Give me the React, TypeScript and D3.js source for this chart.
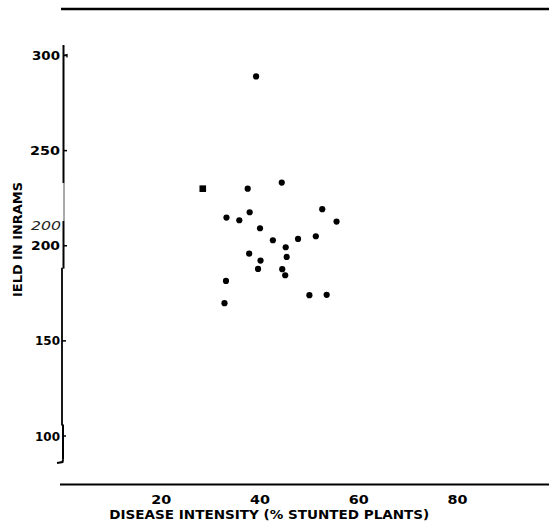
import React from "react";
import * as d3 from "d3";

const intensity = [39.2, 37.5, 44.4, 52.6, 33.2, 37.9, 35.8, 55.5, 40.0, 42.6, 47.7, 51.3, 45.2, 37.8, 45.4, 40.1, 39.6, 44.5, 45.1, 33.1, 50.0, 53.5, 32.8];
const yieldG = [289, 230, 233.2, 219.2, 214.8, 217.6, 213.4, 212.7, 209.2, 202.9, 203.6, 205.0, 199.2, 195.9, 194.1, 192.2, 187.8, 187.7, 184.5, 181.5, 174.0, 174.2, 169.8];
const squareX = [28.4];
const squareY = [230];
const xTicks = [20, 40, 60, 80];
const yTicks = [100, 150, 200, 250, 300];
const yTickWidths = [25, 25, 29, 30, 28];

export default function App() {
  const W = 549, H = 525;
  const x = d3.scaleLinear().domain([20, 80]).range([161.3, 457.5]);
  const y = d3.scaleLinear().domain([100, 300]).range([436, 55.5]);
  const font = "'DejaVu Sans', 'Liberation Sans', Arial, sans-serif";
  return (
    <svg width={W} height={H} style={{ position: "absolute", left: 0, top: 0, background: "#fff" }}>
      {/* top rule */}
      <line x1={61} x2={549} y1={9} y2={9} stroke="#000" strokeWidth={2.5} />
      {/* x axis line */}
      <line x1={60} x2={549} y1={484.5} y2={484.5} stroke="#000" strokeWidth={2} />
      {/* y axis line (scanned, slightly broken) */}
      <line x1={63.5} x2={63.5} y1={y(305.5)} y2={y(233)} stroke="#000" strokeWidth={2} />
      <line x1={64} x2={64} y1={y(233)} y2={y(213)} stroke="#555" strokeWidth={1} />
      <line x1={63.5} x2={63.5} y1={y(213)} y2={y(188)} stroke="#000" strokeWidth={2} />
      <line x1={62} x2={62} y1={y(188.5)} y2={y(105.5)} stroke="#000" strokeWidth={1.8} />
      <line x1={63} x2={63} y1={y(106)} y2={y(87.5)} stroke="#000" strokeWidth={2} />
      <path d={`M63,${y(87.5)} L62.5,${y(86.3)} L57,${y(85.8)}`} stroke="#000" strokeWidth={2} fill="none" />
      {yTicks.map((t, i) => (
        <g key={t}>
          <line x1={t >= 200 ? 63.5 : 62} x2={t >= 200 ? 67 : 66} y1={y(t)} y2={y(t)} stroke="#000" strokeWidth={1.5} />
          <text x={60} y={y(t) + 4.5} textAnchor="end" fontFamily={font} fontWeight="bold" fontSize={12.5}
            textLength={yTickWidths[i]} lengthAdjust="spacingAndGlyphs" fill="#000">{t}</text>
        </g>
      ))}
      <path d={`M63.5,${y(300)} L67,${y(300) - 1} L67,${y(300) + 2}`} stroke="#000" strokeWidth={1.3} fill="none" />
      {/* duplicate italic 200 artifact */}
      <text x={61} y={230} textAnchor="end" fontFamily={font} fontStyle="italic" fontSize={13}
        textLength={30} lengthAdjust="spacingAndGlyphs" fill="#222">200</text>
      {/* y title */}
      <text transform="translate(22,239.5) rotate(-90)" textAnchor="middle" fontFamily={font} fontWeight="bold"
        fontSize={11.5} textLength={115} lengthAdjust="spacingAndGlyphs" fill="#000">IELD IN INRAMS</text>
      {/* x ticks */}
      {xTicks.map((t) => (
        <text key={t} x={x(t)} y={503.5} textAnchor="middle" fontFamily={font} fontWeight="bold" fontSize={12.5}
          textLength={20} lengthAdjust="spacingAndGlyphs" fill="#000">{t}</text>
      ))}
      <text x={269.3} y={518.5} textAnchor="middle" fontFamily={font} fontWeight="bold" fontSize={11.5}
        textLength={320} lengthAdjust="spacingAndGlyphs" fill="#000">DISEASE INTENSITY (% STUNTED PLANTS)</text>
      {/* points */}
      {intensity.map((v, i) => (
        <circle key={i} cx={x(v)} cy={y(yieldG[i])} r={3.1} fill="#000" />
      ))}
      {squareX.map((v, i) => (
        <rect key={i} x={x(v) - 3.3} y={y(squareY[i]) - 3.3} width={6.6} height={6.6} fill="#000" />
      ))}
    </svg>
  );
}
